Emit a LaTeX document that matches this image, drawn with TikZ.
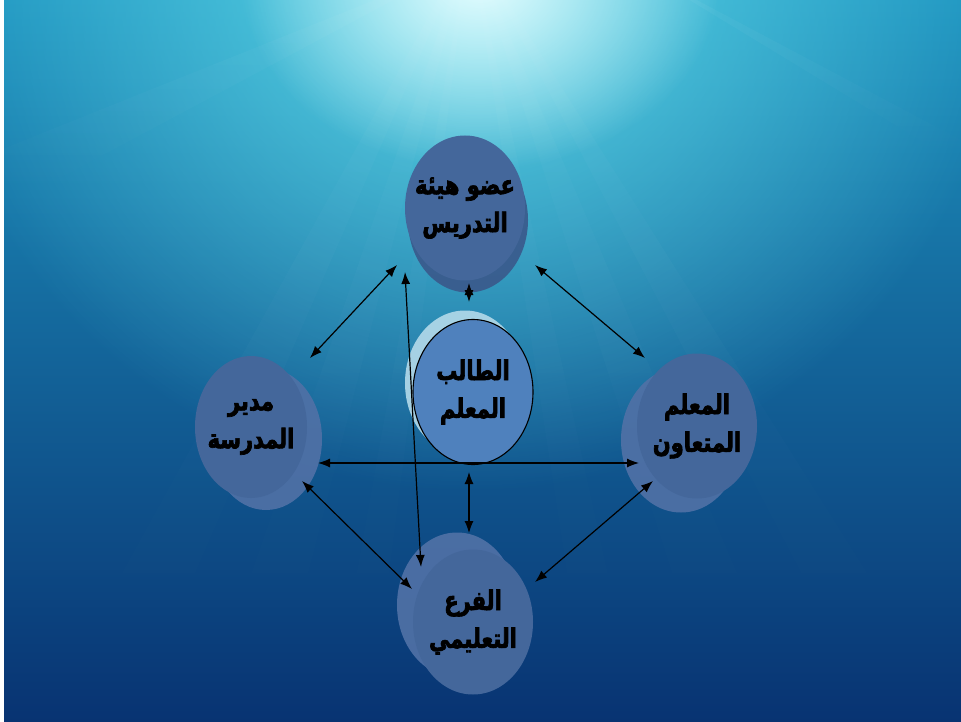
\documentclass[tikz,border=0pt]{standalone}
\usepackage{fontspec}
\usetikzlibrary{shapes.geometric,arrows.meta,fadings}
\TeXXeTstate=1
\newfontfamily\arabicfont[Script=Arabic,FakeBold=2.5,FakeStretch=0.78]{DejaVu Sans}
\definecolor{bgtop}{HTML}{1E94C0}
\definecolor{bgmid}{HTML}{1168AC}
\definecolor{bgbot}{HTML}{083372}
\definecolor{glowc}{HTML}{62DCEA}
\definecolor{gloww}{HTML}{E6FDFF}
\definecolor{nodefront}{HTML}{44679B}
\definecolor{nodeback}{HTML}{5071A6}
\definecolor{topback}{HTML}{3A5A8C}
\definecolor{centerfill}{HTML}{4F81BD}
\definecolor{centerglow}{HTML}{B4DAEA}
\tikzfading[name=glowfade, inner color=transparent!0, outer color=transparent!100]
\tikzfading[name=rayfade, top color=transparent!40, bottom color=transparent!100]
\begin{document}
\begin{tikzpicture}[x=1bp,y=-1bp,
  face/.style={ellipse, draw=none, inner sep=0pt, minimum width=120bp, minimum height=145bp},
  labeltext/.style={text=black, align=center, inner sep=0pt, font=\arabicfont\bfseries\fontsize{27}{38}\selectfont},
  frontface/.style={face, fill=nodefront},
  backface/.style={face, fill=nodeback, fill opacity=0.92},
  link/.style={line width=1.2bp, black, {Latex[length=12bp,width=9bp]}-{Latex[length=12bp,width=9bp]}}
]
\useasboundingbox (0,0) rectangle (961,722);
% background
\fill[top color=bgtop, middle color=bgmid, bottom color=bgbot] (0,0) rectangle (961,722);
\fill[glowc, path fading=glowfade, fill opacity=0.95] (470,-30) ellipse [x radius=540, y radius=520];
\fill[gloww, path fading=glowfade] (480,-20) ellipse [x radius=240, y radius=190];
% rays
\foreach \a/\b in {40/130, 200/270, 330/370, 590/640, 720/800, 880/961} {
  \fill[white, fill opacity=0.05, path fading=rayfade] (470,-60) -- (\a,722) -- (\b,722) -- cycle;
}
\fill[white, fill opacity=0.07, path fading=rayfade] (450,-30) -- (0,150) -- (0,210) -- cycle;
\fill[white, fill opacity=0.08, path fading=rayfade] (640,-30) -- (961,140) -- (961,165) -- cycle;
\fill[white] (0,0) rectangle (4,722);

% top node
\node[backface, fill=topback] (topB) at (468,220) {};
\node[frontface] (top) at (465,208) {};
\node[labeltext] (topT) at (top.center) {\beginR عضو هيئة\endR\\\beginR التدريس\endR};
% left node
\node[backface, minimum width=112bp, minimum height=142bp] (leftB) at (266,439) {};
\node[frontface, minimum width=112bp, minimum height=142bp] (left) at (251,427) {};
\node[labeltext] (leftT) at (left.center) {\beginR مدير\endR\\\beginR المدرسة\endR};
% right node
\node[backface] (rightB) at (681,440) {};
\node[frontface] (right) at (697,426) {};
\node[labeltext] (rightT) at (right.center) {\beginR المعلم\endR\\\beginR المتعاون\endR};
% bottom node
\node[backface] (bottomB) at (457,605) {};
\node[frontface] (bottom) at (473,622) {};
\node[labeltext] (bottomT) at (bottom.center) {\beginR الفرع\endR\\\beginR التعليمي\endR};
% center node
\node[face, fill=centerglow, fill opacity=0.9] (centerG) at (465,383) {};
\node[face, fill=centerfill, draw=black, line width=1.1bp] (center) at (473,392) {};
\node[labeltext] (centerT) at (center.center) {\beginR الطالب\endR\\\beginR المعلم\endR};

% arrow end points
\coordinate (a1) at (310,358); \coordinate (a2) at (397,265);
\coordinate (b1) at (405,272); \coordinate (b2) at (421,567);
\coordinate (c1) at (469,283); \coordinate (c2) at (469,302);
\coordinate (d1) at (535,265); \coordinate (d2) at (645,358);
\coordinate (e1) at (318,463); \coordinate (e2) at (639,463);
\coordinate (f1) at (302,481); \coordinate (f2) at (412,589);
\coordinate (g1) at (469,472); \coordinate (g2) at (469,533);
\coordinate (h1) at (653,481); \coordinate (h2) at (535,582);

\draw[link] (a1) -- (a2);
\draw[link] (b1) -- (b2);
\draw[link] (c1) -- (c2);
\draw[link] (d1) -- (d2);
\draw[link] (e1) -- (e2);
\draw[link] (f1) -- (f2);
\draw[link] (g1) -- (g2);
\draw[link] (h1) -- (h2);
\end{tikzpicture}
\end{document}
